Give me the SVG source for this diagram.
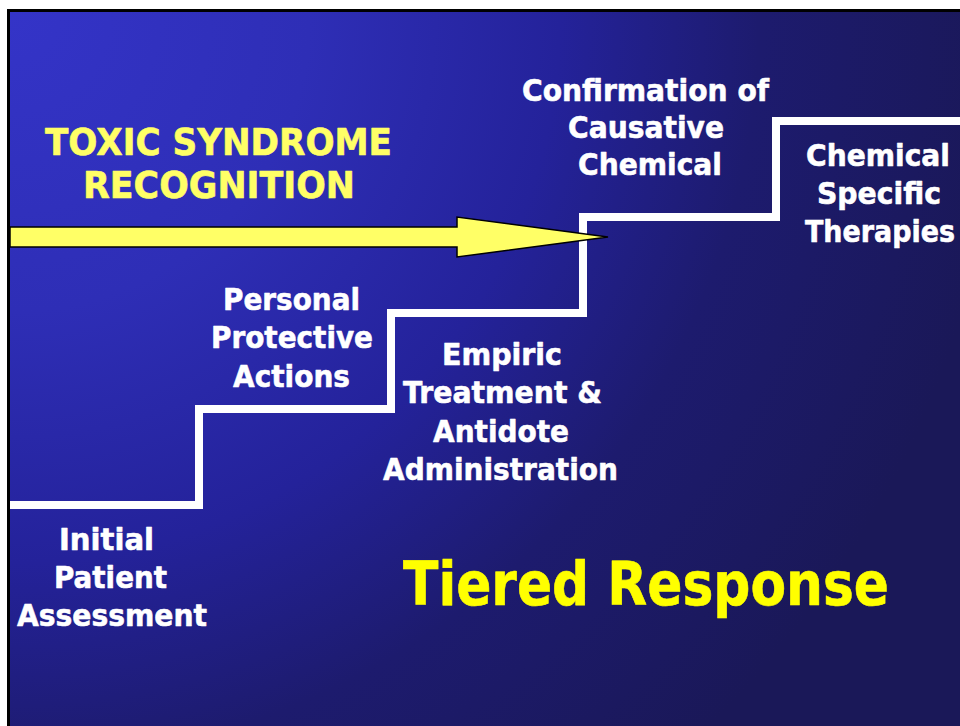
<svg xmlns="http://www.w3.org/2000/svg" width="960" height="726" viewBox="0 0 960 726">
<defs>
<radialGradient id="bg" gradientUnits="userSpaceOnUse" cx="10" cy="12" r="1000">
<stop offset="0" stop-color="#3434c8"/>
<stop offset="0.3" stop-color="#2e2eb6"/>
<stop offset="0.55" stop-color="#24229a"/>
<stop offset="0.75" stop-color="#1d1b6e"/>
<stop offset="1" stop-color="#1a1858"/>
</radialGradient>
<style>
.t{font-family:"DejaVu Sans",Verdana,sans-serif;font-weight:bold;text-anchor:middle;stroke-width:0.6px;stroke-linejoin:round}
.w{fill:#ffffff;stroke:#ffffff;font-size:31px}
.y1{fill:#ffff66;stroke:#ffff66;font-size:37px}
.y2{fill:#ffff00;stroke:#ffff00;font-size:60px}
</style>
</defs>
<rect x="0" y="0" width="960" height="726" fill="#ffffff"/>
<rect x="7" y="9" width="953" height="717" fill="#000000"/>
<rect x="10" y="12" width="950" height="714" fill="url(#bg)"/>
<g id="steps">
<path d="M10,505 H199 V409 H391 V313 H583 V217 H776 V121 H960" fill="none" stroke="#ffffff" stroke-width="8" stroke-linejoin="miter"/>
</g>
<g id="connectors">
<polygon points="10,227 457,227 457,217 608,237 457,257 457,247 10,247" fill="#ffff66" stroke="#000000" stroke-width="1.5" stroke-linejoin="miter"/>
</g>
<g id="toxic-syndrome">
<text class="t y1" x="218.5" y="155" textLength="347" lengthAdjust="spacingAndGlyphs">TOXIC SYNDROME</text>
<text class="t y1" x="219" y="198" textLength="272" lengthAdjust="spacingAndGlyphs">RECOGNITION</text>
</g>
<g id="initial">
<text class="t w" x="106.5" y="550" textLength="95" lengthAdjust="spacingAndGlyphs">Initial</text>
<text class="t w" x="110.5" y="588" textLength="113" lengthAdjust="spacingAndGlyphs">Patient</text>
<text class="t w" x="112" y="626" textLength="190" lengthAdjust="spacingAndGlyphs">Assessment</text>
</g>
<g id="personal">
<text class="t w" x="291.5" y="310" textLength="137" lengthAdjust="spacingAndGlyphs">Personal</text>
<text class="t w" x="292" y="348" textLength="162" lengthAdjust="spacingAndGlyphs">Protective</text>
<text class="t w" x="291.5" y="387" textLength="117" lengthAdjust="spacingAndGlyphs">Actions</text>
</g>
<g id="empiric">
<text class="t w" x="502" y="365" textLength="120" lengthAdjust="spacingAndGlyphs">Empiric</text>
<text class="t w" x="502.5" y="403" textLength="199" lengthAdjust="spacingAndGlyphs">Treatment &amp;</text>
<text class="t w" x="501" y="442" textLength="136" lengthAdjust="spacingAndGlyphs">Antidote</text>
<text class="t w" x="500.5" y="480" textLength="235" lengthAdjust="spacingAndGlyphs">Administration</text>
</g>
<g id="confirmation">
<text class="t w" x="645.5" y="101" textLength="247" lengthAdjust="spacingAndGlyphs">Confirmation of</text>
<text class="t w" x="646" y="138" textLength="156" lengthAdjust="spacingAndGlyphs">Causative</text>
<text class="t w" x="650" y="175" textLength="144" lengthAdjust="spacingAndGlyphs">Chemical</text>
</g>
<g id="specific">
<text class="t w" x="878" y="166" textLength="144" lengthAdjust="spacingAndGlyphs">Chemical</text>
<text class="t w" x="879" y="204" textLength="124" lengthAdjust="spacingAndGlyphs">Specific</text>
<text class="t w" x="880" y="242" textLength="150" lengthAdjust="spacingAndGlyphs">Therapies</text>
</g>
<g id="title">
<text class="t y2" x="646" y="605" textLength="486" lengthAdjust="spacingAndGlyphs">Tiered Response</text>
</g>
</svg>
